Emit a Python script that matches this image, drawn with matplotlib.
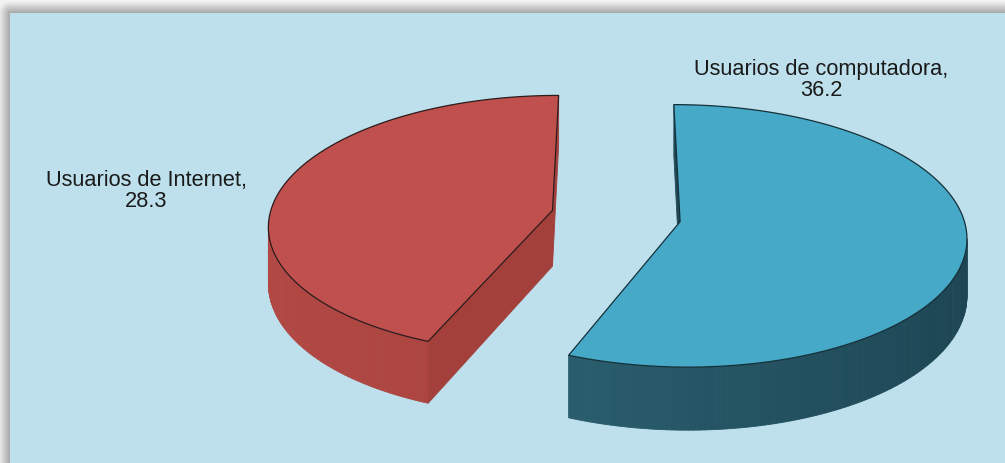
import numpy as np
import matplotlib
matplotlib.use("Agg")
import matplotlib.pyplot as plt
from matplotlib.patches import Polygon

# data
labels = ["Usuarios de Internet", "Usuarios de computadora"]
values = [28.3, 36.2]

top_colors = ["#c0504d", "#46a9c7"]
side_light = ["#b24844", "#2f6879"]
side_dark = ["#a03e3a", "#1d4553"]
radial_colors = ["#a3403c", "#1f4756"]
edge_colors = ["#2b1c1c", "#163039"]

W, H = 1005, 463
fig = plt.figure(figsize=(W / 100, H / 100), dpi=100)
ax = fig.add_axes([0, 0, 1, 1])
ax.set_xlim(0, W)
ax.set_ylim(H, 0)
ax.axis("off")

# panel background with the grey shadow on top and left
yy, xx = np.mgrid[0:H, 0:W] + 0.5
dx = np.clip(10 - xx, 0, None)
dy = np.clip(13 - yy, 0, None)
dist = np.hypot(dx, dy)
gray = np.clip(0.66 + 0.30 * dist / 12, 0, 0.95)
img = np.repeat(gray[..., None], 3, axis=2)
img[(dx == 0) & (dy == 0)] = np.array([0xbd, 0xe0, 0xec]) / 255
ax.imshow(img, extent=(0, W, H, 0), interpolation="nearest", aspect="auto", zorder=0)

# simple perspective model of the 3d pie (pixel units)
PX, PY = 616, 216
R = 283
TILT = 0.454
K = 0.1076
DEPTH = 56
EXPLODE = 65


def proj(X, Y, Z):
    s = 1 / (1 + K * np.asarray(Y) / R)
    return np.column_stack([PX + np.asarray(X) * s, PY + (-np.asarray(Y) * TILT - Z) * s])


def area(pts):
    x = pts[:, 0]
    y = -pts[:, 1]
    return 0.5 * np.sum(x * np.roll(y, -1) - np.roll(x, -1) * y)


def mix(c1, c2, f):
    a = np.array(matplotlib.colors.to_rgb(c1))
    b = np.array(matplotlib.colors.to_rgb(c2))
    return tuple(a * f + b * (1 - f))


total = sum(values)
start = 90.0
for i, v in enumerate(values):
    span = 360.0 * v / total
    a, b = start, start + span
    start = b
    mid = np.radians((a + b) / 2)
    cx, cy = EXPLODE * np.cos(mid), EXPLODE * np.sin(mid)

    n = max(int(span), 20)
    th = np.radians(np.linspace(a, b, n))
    X = cx + R * np.cos(th)
    Y = cy + R * np.sin(th)
    top = proj(X, Y, 0)
    bot = proj(X, Y, -DEPTH)
    c_top = proj([cx], [cy], 0)[0]
    c_bot = proj([cx], [cy], -DEPTH)[0]

    # outer curved side
    for j in range(n - 1):
        quad = np.array([bot[j], bot[j + 1], top[j + 1], top[j]])
        if area(quad) <= 0:
            continue
        f = (1 - np.cos((th[j] + th[j + 1]) / 2)) / 2
        col = mix(side_light[i], side_dark[i], f)
        ax.add_patch(Polygon(quad, closed=True, facecolor=col, edgecolor=col,
                             lw=0.6, zorder=2))

    # radial faces
    faces = [np.array([c_bot, bot[0], top[0], c_top]),
             np.array([bot[-1], c_bot, c_top, top[-1]])]
    for face in faces:
        if area(face) > 0:
            ax.add_patch(Polygon(face, closed=True, facecolor=radial_colors[i],
                                 edgecolor=radial_colors[i], lw=0.6, zorder=3))

    # top face
    ax.add_patch(Polygon(np.vstack([c_top, top]), closed=True,
                         facecolor=top_colors[i], edgecolor=edge_colors[i],
                         lw=0.9, joinstyle="round", zorder=4))

# data labels
label_pos = [(146, 186), (821, 75)]
for (lx, ly), name, v in zip(label_pos, labels, values):
    ax.text(lx, ly, f"{name},", ha="center", va="baseline", fontsize=15.7,
            family="Liberation Sans", color="#1a1a1a", zorder=5)
    ax.text(lx, ly + 21, f"{v}", ha="center", va="baseline", fontsize=15.7,
            family="Liberation Sans", color="#1a1a1a", zorder=5)

fig.savefig("out.png", dpi=100)
